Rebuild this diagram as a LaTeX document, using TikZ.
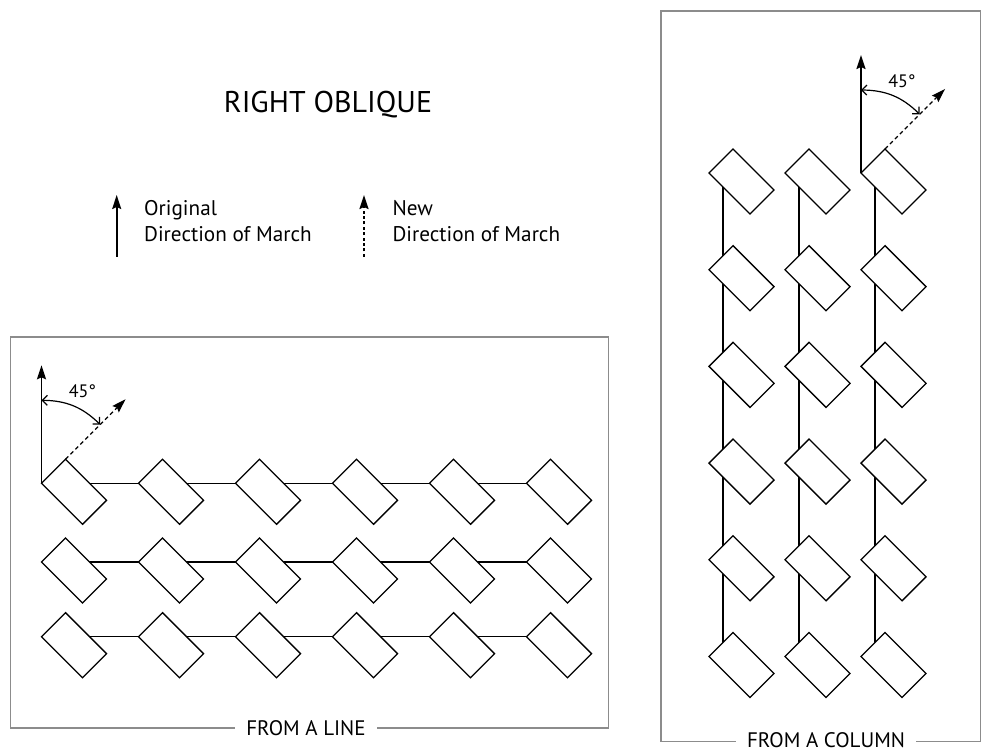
\documentclass[tikz,border=0pt]{standalone}
\usepackage{fontspec}
\setmainfont{PT Sans}
\usetikzlibrary{arrows.meta,calc,backgrounds}

\tikzset{
  man/.style={draw,fill=white,rotate=-45,minimum width=29pt,minimum height=17pt,
    inner sep=0pt,outer sep=0pt,line width=0.65pt,anchor=south west},
  frame/.style={draw=black!45,line width=0.8pt},
  framelabel/.style={fill=white,inner xsep=5.5pt,inner ysep=1pt,font=\fontsize{10.5}{12}\selectfont},
  legend/.style={inner sep=0pt,align=left,anchor=base west,font=\fontsize{10.6}{13.35}\selectfont},
  angle/.style={line width=0.6pt,{Straight Barb[length=2.5pt,width=5pt]}-{Straight Barb[length=2.5pt,width=5pt]}},
  newdir/.style={->,line width=0.6pt,dash pattern=on 2pt off 1.5pt},
}

\begin{document}
\begin{tikzpicture}[x=0.5pt,y=-0.5pt,line width=0.9pt,>={Stealth[length=7pt,width=4.5pt,inset=1pt]}]
		\useasboundingbox (0,0) rectangle (982,751);
		% title and legend
		\node[font=\fontsize{15}{18}\selectfont,anchor=base] (title) at (328,112.7) {RIGHT OBLIQUE};
		\coordinate (oldbot) at (116.7,256.7);
		\coordinate (oldtop) at (116.7,195);
		\draw[->] (oldbot) -- (oldtop);
		\node[legend] (oldtext) at (143.3,241.7) {Original\\Direction of March};
		\coordinate (newbot) at (364,256.7);
		\coordinate (newtop) at (364,195);
		\draw[->,dash pattern=on 1.5pt off 1.2pt] (newbot) -- (newtop);
		\node[legend] (newtext) at (391.7,241.7) {New\\Direction of March};
		% frames
		\draw[frame] (10.7,336.7) rectangle (608.3,727.7);
		\node[framelabel] (linelabel) at (306,728) {FROM A LINE};
		\draw[frame] (661,10.7) rectangle (980.5,741.5);
		\node[framelabel] (collabel) at (826,740) {FROM A COLUMN};
		% from a line
		\foreach \r/\y in {1/483.3,2/562,3/636.7}
			\foreach \c in {1,...,6}
				\node[man] (l\r-\c) at ({41.5+97*(\c-1)},\y) {};
		% from a column
		\foreach \c/\x in {1/709,2/785,3/861}
			\foreach \r in {1,...,6}
				\node[man] (c\c-\r) at (\x,{173+96.7*(\r-1)}) {};
		\begin{scope}[on background layer]
			\foreach \r in {1,2,3}{
				\foreach \c [count=\n from 2] in {1,...,5}{
					\draw[line width=0.65pt] (l\r-\c.south west) -- (l\r-\n.south west);
				}
			}
			\foreach \c in {1,2,3}
				\draw[line width=0.65pt] ($(c\c-1.south west)+(14,0)$) -- ($(c\c-6.south west)+(14,0)$);
		\end{scope}
		% directions
		\foreach \m/\s in {l1-1/l,c3-1/c}{
			\coordinate (\s orig) at ($(\m.south west)+(0,-118)$);
			\coordinate (\s new) at ($(\m.north west)+(60,-60)$);
			\coordinate (\s arcA) at ($(\m.south west)+(0,-83)$);
			\coordinate (\s arcB) at ($(\m.south west)+(58.7,-58.7)$);
			\draw[->] (\m.south west) -- (\s orig);
			\draw[newdir] (\m.north west) -- (\s new);
			\draw[angle] (\s arcA) to[bend left=22] (\s arcB);
			\node[font=\fontsize{9}{10}\selectfont] (\s deg) at ($(\m.south west)+(41,-92)$) {45°};
		}
	\end{tikzpicture}
\end{document}
